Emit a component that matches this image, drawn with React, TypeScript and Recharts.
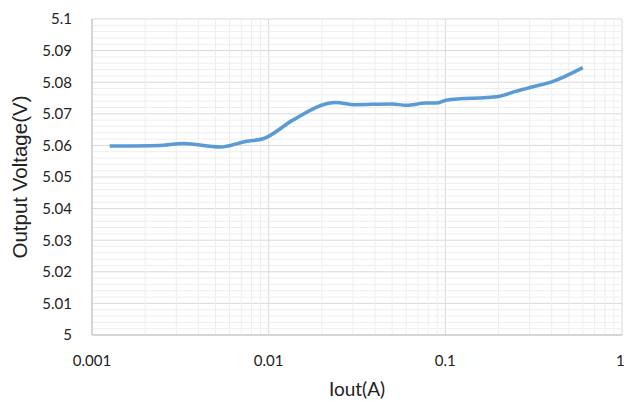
import React from 'react';
import {
  LineChart,
  Line,
  XAxis,
  YAxis,
  CartesianGrid,
  ReferenceLine,
} from 'recharts';

const iout = [
  0.00126, 0.0024, 0.0033, 0.0053, 0.0075, 0.0093, 0.0137, 0.0212, 0.0241, 0.03,
  0.05, 0.06, 0.078, 0.089, 0.101, 0.2, 0.25, 0.31, 0.4, 0.6,
];
const vout = [
  5.0598, 5.06, 5.0606, 5.0595, 5.0613, 5.0621, 5.068, 5.0732, 5.0736, 5.0729,
  5.0731, 5.0727, 5.0734, 5.0734, 5.0743, 5.0755, 5.0771, 5.0785, 5.0801, 5.0846,
];

const xTicks = [0.001, 0.01, 0.1, 1];
const yTicks = [5, 5.01, 5.02, 5.03, 5.04, 5.05, 5.06, 5.07, 5.08, 5.09, 5.1];

const xMinor = [
  0.002, 0.003, 0.004, 0.005, 0.006, 0.007, 0.008, 0.009,
  0.02, 0.03, 0.04, 0.05, 0.06, 0.07, 0.08, 0.09,
  0.2, 0.3, 0.4, 0.5, 0.6, 0.7, 0.8, 0.9,
];
const yMinor = [
  5.002, 5.004, 5.006, 5.008, 5.012, 5.014, 5.016, 5.018,
  5.022, 5.024, 5.026, 5.028, 5.032, 5.034, 5.036, 5.038,
  5.042, 5.044, 5.046, 5.048, 5.052, 5.054, 5.056, 5.058,
  5.062, 5.064, 5.066, 5.068, 5.072, 5.074, 5.076, 5.078,
  5.082, 5.084, 5.086, 5.088, 5.092, 5.094, 5.096, 5.098,
];

const data = iout.map((x, i) => ({ x, v: vout[i] }));

const tickStyle = { fontFamily: 'Lato, sans-serif', fontSize: 15, fill: '#222' };

export default function App() {
  return (
    <div style={{ position: 'fixed', left: 0, top: 0, background: '#fff' }}>
      <LineChart
        width={624}
        height={402}
        data={data}
        margin={{ top: 19, right: 2, left: 0, bottom: 0 }}
      >
        {yMinor.map((y) => (
          <ReferenceLine key={'y' + y} y={y} stroke="#eeeeee" strokeWidth={1} />
        ))}
        {xMinor.map((x) => (
          <ReferenceLine key={'x' + x} x={x} stroke="#eeeeee" strokeWidth={1} />
        ))}
        <CartesianGrid stroke="#d9d9d9" strokeWidth={1} />
        <XAxis
          dataKey="x"
          type="number"
          scale="log"
          domain={[0.001, 1]}
          ticks={xTicks}
          allowDataOverflow
          height={67}
          stroke="#bfbfbf"
          tickLine={false}
          tick={tickStyle}
          tickMargin={14}
          tickFormatter={(v: number) => String(v)}
          label={{
            value: 'Iout(A)',
            position: 'insideBottom',
            offset: 6,
            style: { fontFamily: 'Lato, sans-serif', fontSize: 19, fill: '#222' },
          }}
        />
        <YAxis
          type="number"
          domain={[5, 5.1]}
          ticks={yTicks}
          width={92}
          stroke="#bfbfbf"
          tickLine={false}
          tick={tickStyle}
          tickMargin={14}
          tickFormatter={(v: number) => String(v)}
          label={{
            value: 'Output Voltage(V)',
            angle: -90,
            position: 'insideLeft',
            offset: 20,
            style: {
              fontFamily: '"Liberation Sans", Arial, sans-serif',
              fontSize: 20.5,
              fill: '#222',
              textAnchor: 'middle',
            },
          }}
        />
        <Line
          dataKey="v"
          type="monotone"
          stroke="#5b9bd5"
          strokeWidth={3.5}
          dot={false}
          isAnimationActive={false}
        />
      </LineChart>
    </div>
  );
}
